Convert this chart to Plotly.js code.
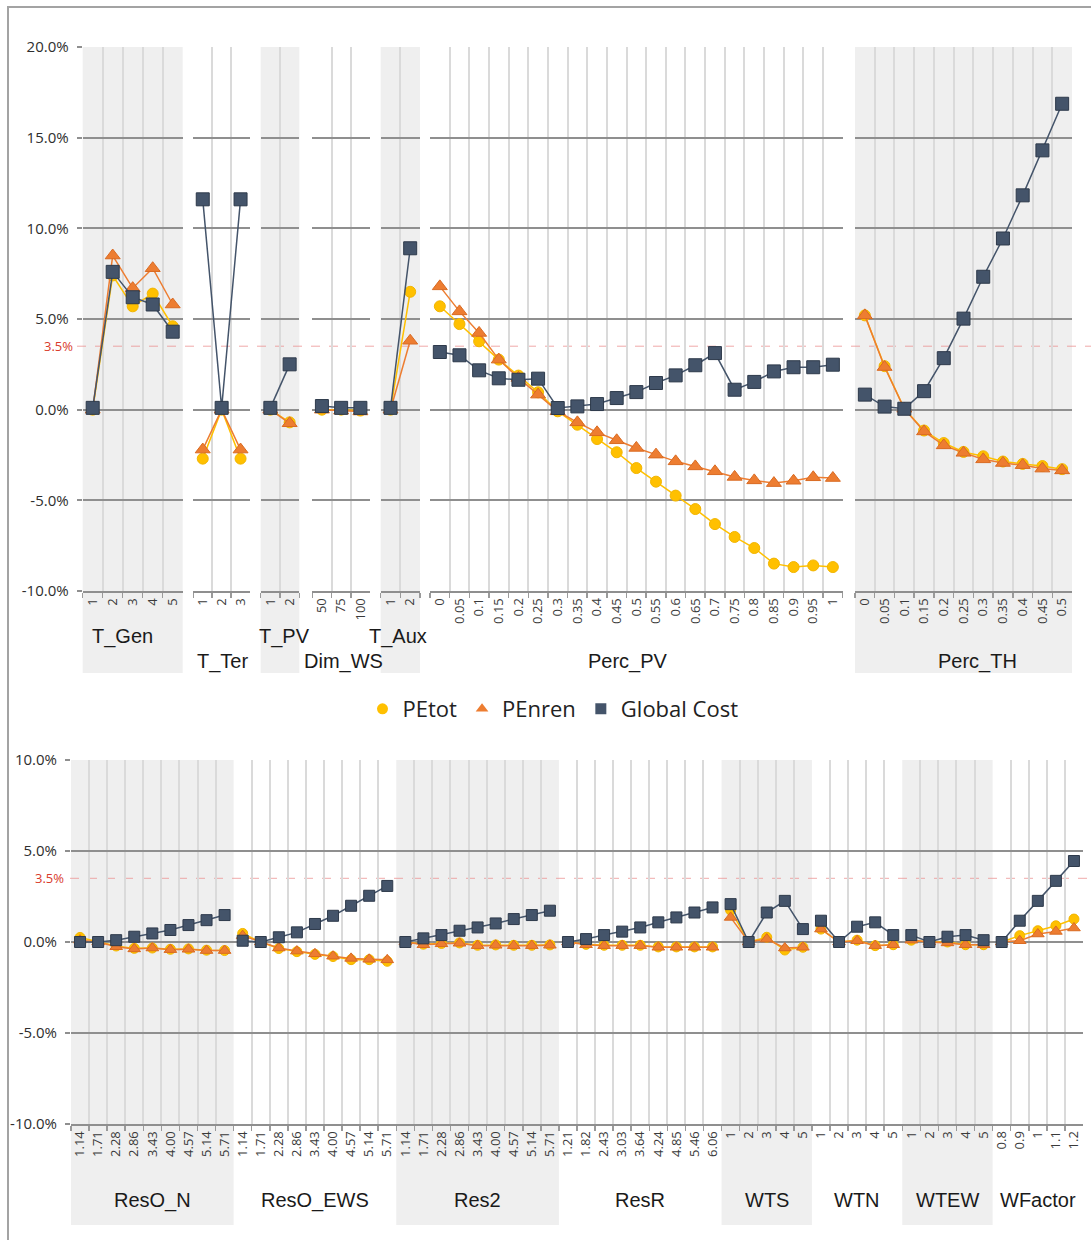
<!DOCTYPE html>
<html><head><meta charset="utf-8">
<script src="https://cdn.plot.ly/plotly-3.0.1.min.js"></script>
<style>html,body{margin:0;padding:0;background:#fff}#chart{width:1091px;height:1240px}</style>
</head><body><div id="chart"></div>
<script>
// ---------- DATA (values in %) ----------
// Top panel
const tGenCats   = ['1','2','3','4','5'];
const tGenPEtot  = [0, 7.4, 5.7, 6.4, 4.6];
const tGenPEnren = [0, 8.5, 6.7, 7.8, 5.8];
const tGenCost   = [0.1, 7.6, 6.2, 5.8, 4.3];

const tTerCats   = ['1','2','3'];
const tTerPEtot  = [-2.7, 0, -2.7];
const tTerPEnren = [-2.2, 0, -2.2];
const tTerCost   = [11.6, 0.1, 11.6];

const tPvCats    = ['1','2'];
const tPvPEtot   = [0, -0.7];
const tPvPEnren  = [0, -0.75];
const tPvCost    = [0.1, 2.5];

const dimWsCats   = ['50','75','100'];
const dimWsPEtot  = [0, 0, -0.05];
const dimWsPEnren = [0, -0.05, -0.1];
const dimWsCost   = [0.2, 0.1, 0.1];

const tAuxCats   = ['1','2'];
const tAuxPEtot  = [0, 6.5];
const tAuxPEnren = [0, 3.8];
const tAuxCost   = [0.1, 8.9];

const percPvCats   = ['0','0.05','0.1','0.15','0.2','0.25','0.3','0.35','0.4','0.45','0.5','0.55','0.6','0.65','0.7','0.75','0.8','0.85','0.9','0.95','1'];
const percPvPEtot  = [5.7, 4.72, 3.77, 2.76, 1.88, 0.96, -0.09, -0.83, -1.62, -2.35, -3.22, -3.97, -4.74, -5.48, -6.31, -7.02, -7.63, -8.49, -8.68, -8.59, -8.68];
const percPvPEnren = [6.8, 5.42, 4.23, 2.76, 1.75, 0.83, -0.09, -0.7, -1.25, -1.69, -2.11, -2.48, -2.85, -3.13, -3.4, -3.71, -3.9, -4.05, -3.92, -3.73, -3.77];
const percPvCost   = [3.18, 3.0, 2.17, 1.73, 1.65, 1.71, 0.09, 0.18, 0.31, 0.64, 0.97, 1.47, 1.89, 2.45, 3.12, 1.1, 1.53, 2.11, 2.34, 2.34, 2.48];

const percThCats   = ['0','0.05','0.1','0.15','0.2','0.25','0.3','0.35','0.4','0.45','0.5'];
const percThPEtot  = [5.2, 2.4, 0.05, -1.15, -1.84, -2.33, -2.57, -2.86, -2.99, -3.11, -3.28];
const percThPEnren = [5.2, 2.35, 0.05, -1.2, -1.97, -2.38, -2.74, -2.94, -3.06, -3.25, -3.35];
const percThCost   = [0.83, 0.17, 0.05, 1.02, 2.84, 5.02, 7.33, 9.44, 11.82, 14.3, 16.87];

// Bottom panel
const resOCats     = ['1.14','1.71','2.28','2.86','3.43','4.00','4.57','5.14','5.71'];
const resONPEtot   = [0.25, 0, -0.22, -0.35, -0.33, -0.4, -0.38, -0.45, -0.47];
const resONPEnren  = [0.1, 0, -0.26, -0.38, -0.33, -0.42, -0.4, -0.47, -0.47];
const resONCost    = [0, 0, 0.1, 0.29, 0.47, 0.66, 0.93, 1.2, 1.48];

const resOEWSPEtot  = [0.47, 0, -0.36, -0.53, -0.68, -0.8, -0.97, -0.97, -1.06];
const resOEWSPEnren = [0.35, 0, -0.33, -0.5, -0.65, -0.78, -0.9, -0.95, -0.98];
const resOEWSCost   = [0.07, 0, 0.26, 0.53, 0.99, 1.44, 1.99, 2.54, 3.08];

const res2Cats    = ['1.14','1.71','2.28','2.86','3.43','4.00','4.57','5.14','5.71'];
const res2PEtot   = [0, -0.12, -0.08, -0.05, -0.18, -0.16, -0.18, -0.18, -0.16];
const res2PEnren  = [0, -0.15, -0.1, -0.07, -0.2, -0.18, -0.2, -0.2, -0.18];
const res2Cost    = [0, 0.2, 0.38, 0.62, 0.8, 1.02, 1.26, 1.48, 1.72];

const resRCats    = ['1.21','1.82','2.43','3.03','3.64','4.24','4.85','5.46','6.06'];
const resRPEtot   = [0, -0.13, -0.18, -0.18, -0.18, -0.27, -0.27, -0.27, -0.27];
const resRPEnren  = [0, -0.15, -0.2, -0.2, -0.2, -0.29, -0.29, -0.29, -0.29];
const resRCost    = [0, 0.16, 0.38, 0.57, 0.8, 1.08, 1.35, 1.62, 1.9];

const wtCats      = ['1','2','3','4','5'];
const wtsPEtot    = [1.75, 0, 0.26, -0.44, -0.29];
const wtsPEnren   = [1.35, 0, 0.16, -0.33, -0.29];
const wtsCost     = [2.08, 0, 1.62, 2.26, 0.71];

const wtnPEtot    = [0.71, 0, 0.1, -0.2, -0.15];
const wtnPEnren   = [0.71, 0, 0.07, -0.2, -0.15];
const wtnCost     = [1.17, 0, 0.84, 1.08, 0.38];

const wtewPEtot   = [0.1, 0, 0, -0.15, -0.15];
const wtewPEnren  = [0.1, 0, -0.05, -0.15, -0.15];
const wtewCost    = [0.38, 0, 0.29, 0.38, 0.1];

const wfCats      = ['0.8','0.9','1','1.1','1.2'];
const wfPEtot     = [0, 0.35, 0.62, 0.89, 1.26];
const wfPEnren    = [0, 0.07, 0.44, 0.58, 0.77];
const wfCost      = [0, 1.17, 2.26, 3.36, 4.45];

const seriesNames = ['PEtot','PEnren','Global Cost'];
const threshold = 3.5;
const topYTicks = [-10, -5, 0, 5, 10, 15, 20];
const botYTicks = [-10, -5, 0, 5, 10];

// ---------- GROUP TABLES ----------
const topGroups = [
  {label:'T_Gen',   cats:tGenCats,   pe:tGenPEtot,   pn:tGenPEnren,   gc:tGenCost},
  {label:'T_Ter',   cats:tTerCats,   pe:tTerPEtot,   pn:tTerPEnren,   gc:tTerCost},
  {label:'T_PV',    cats:tPvCats,    pe:tPvPEtot,    pn:tPvPEnren,    gc:tPvCost},
  {label:'Dim_WS',  cats:dimWsCats,  pe:dimWsPEtot,  pn:dimWsPEnren,  gc:dimWsCost},
  {label:'T_Aux',   cats:tAuxCats,   pe:tAuxPEtot,   pn:tAuxPEnren,   gc:tAuxCost},
  {label:'Perc_PV', cats:percPvCats, pe:percPvPEtot, pn:percPvPEnren, gc:percPvCost},
  {label:'Perc_TH', cats:percThCats, pe:percThPEtot, pn:percThPEnren, gc:percThCost}
];
const botGroups = [
  {label:'ResO_N',   cats:resOCats, pe:resONPEtot,   pn:resONPEnren,   gc:resONCost},
  {label:'ResO_EWS', cats:resOCats, pe:resOEWSPEtot, pn:resOEWSPEnren, gc:resOEWSCost},
  {label:'Res2',     cats:res2Cats, pe:res2PEtot,    pn:res2PEnren,    gc:res2Cost},
  {label:'ResR',     cats:resRCats, pe:resRPEtot,    pn:resRPEnren,    gc:resRCost},
  {label:'WTS',      cats:wtCats,   pe:wtsPEtot,     pn:wtsPEnren,     gc:wtsCost},
  {label:'WTN',      cats:wtCats,   pe:wtnPEtot,     pn:wtnPEnren,     gc:wtnCost},
  {label:'WTEW',     cats:wtCats,   pe:wtewPEtot,    pn:wtewPEnren,    gc:wtewCost},
  {label:'WFactor',  cats:wfCats,   pe:wfPEtot,      pn:wfPEnren,      gc:wfCost}
];

// ---------- LAYOUT GEOMETRY (pixels) ----------
const W = 1091, H = 1240;
const px = v => v / W;
const py = v => 1 - v / H;
const topPx = [[82.7,182.7],[193.3,250],[260.7,299.3],[312.3,370],[380.7,420],[430,842.7],[855,1072]];
const topLabelPx = [[122,636],[222,662],[284,636],[343,662],[398,636],[628,662],[977,662]];
const topPlot = [47, 591], topBandBottom = 673;
const botPlot = [760, 1124], botBandBottom = 1225;
const botX0 = 71, botX1 = 1083, botLabelY = 1200;

const COL = {pe:'#FFC000', pn:'#ED7D31', gc:'#44546A'};
const EDGE = {pe:'#F2B500', pn:'#D96A22', gc:'#2E3A4B'};
const SANS = 'Open Sans, Noto Sans, sans-serif';
const ARIAL = 'Liberation Sans, Arial, sans-serif';

const traces = [];
const layout = {
  width: W, height: H,
  margin: {l:0, r:0, t:0, b:0},
  paper_bgcolor: '#ffffff', plot_bgcolor: 'rgba(0,0,0,0)',
  showlegend: true,
  legend: {orientation:'h', x: px(553), y: py(709), xanchor:'center', yanchor:'middle',
           font:{family:SANS, size:22, color:'#222'}, itemwidth:30, tracegroupgap:0,
           bgcolor:'rgba(0,0,0,0)'},
  shapes: [], annotations: []
};

function axisBase(cats, domain, anchor){
  return {
    type:'category', domain: domain, anchor: anchor,
    range:[-0.5, cats.length - 0.5], fixedrange:true,
    tickson:'boundaries', ticks:'outside', ticklen:5, tickcolor:'#9a9a9a', tickwidth:1.5,
    showgrid:true, gridcolor:'#dadada', gridwidth:2,
    showline:true, linecolor:'#8f8f8f', linewidth:2,
    zeroline:false, tickangle:-90, dtick:1,
    tickfont:{family:SANS, size:13, color:'#3a3a3a'}
  };
}

function addTraces(g, axName, yName, big){
  const defs = [
    {y:g.pe, k:'pe', symbol:'circle',      size: big ? 11 : 10},
    {y:g.pn, k:'pn', symbol:'triangle-up', size: big ? 13 : 11},
    {y:g.gc, k:'gc', symbol:'square',      size: big ? 13 : 11}
  ];
  defs.forEach(d => traces.push({
    type:'scatter', mode:'lines+markers', x:g.cats, y:d.y,
    xaxis:axName, yaxis:yName, showlegend:false, hoverinfo:'skip', cliponaxis:false,
    line:{color:COL[d.k], width:1.5},
    marker:{symbol:d.symbol, size:d.size, color:COL[d.k], line:{color:EDGE[d.k], width:1}}
  }));
}

// Top panel
topGroups.forEach((g, i) => {
  const idx = i + 1;
  const key = idx === 1 ? 'xaxis' : 'xaxis' + idx;
  const nm  = idx === 1 ? 'x' : 'x' + idx;
  layout[key] = axisBase(g.cats, [px(topPx[i][0]), px(topPx[i][1])], 'y');
  addTraces(g, nm, 'y', true);
  if (i % 2 === 0) {
    layout.shapes.push({type:'rect', xref:'paper', yref:'paper', layer:'below',
      x0:px(topPx[i][0]), x1:px(topPx[i][1]), y0:py(topBandBottom), y1:py(topPlot[0]),
      fillcolor:'#efefef', line:{width:0}});
  }
  layout.annotations.push({text:g.label, xref:'paper', yref:'paper', showarrow:false,
    x:px(topLabelPx[i][0]), y:py(topLabelPx[i][1]), xanchor:'center', yanchor:'middle',
    font:{family:ARIAL, size:20, color:'#1a1a1a'}});
});

// Bottom panel
const totalBot = botGroups.reduce((s, g) => s + g.cats.length, 0);
const unit = (botX1 - botX0) / totalBot;
let cum = 0;
botGroups.forEach((g, j) => {
  const idx = 8 + j;
  const key = 'xaxis' + idx, nm = 'x' + idx;
  const a = botX0 + cum * unit, b = botX0 + (cum + g.cats.length) * unit;
  cum += g.cats.length;
  layout[key] = axisBase(g.cats, [px(a), px(b)], 'y2');
  addTraces(g, nm, 'y2', false);
  if (j % 2 === 0) {
    layout.shapes.push({type:'rect', xref:'paper', yref:'paper', layer:'below',
      x0:px(a), x1:px(b), y0:py(botBandBottom), y1:py(botPlot[0]),
      fillcolor:'#efefef', line:{width:0}});
  }
  layout.annotations.push({text:g.label, xref:'paper', yref:'paper', showarrow:false,
    x:px((a + b) / 2), y:py(botLabelY), xanchor:'center', yanchor:'middle',
    font:{family:ARIAL, size:20, color:'#1a1a1a'}});
});

function yAxis(domain, range, anchor, ticks){
  return {
    domain: domain, range: range, anchor: anchor, fixedrange:true,
    tickmode:'array', tickvals: ticks, ticktext: ticks.map(v => v.toFixed(1) + '%'),
    showgrid:true, gridcolor:'#8f8f8f', gridwidth:2, zeroline:false,
    ticks:'outside', ticklen:5, tickcolor:'#8f8f8f', tickwidth:2,
    showline:false, ticklabelstandoff:5,
    tickfont:{family:SANS, size:15, color:'#2e2e2e'}
  };
}
layout.yaxis  = yAxis([py(topPlot[1]), py(topPlot[0])], [-10, 20], 'x', topYTicks);
layout.yaxis2 = yAxis([py(botPlot[1]), py(botPlot[0])], [-10, 10], 'x8', botYTicks);

// threshold lines + labels
[['y', 77, 75], ['y2', 70, 66]].forEach(([yr, xs, lx]) => {
  layout.shapes.push({type:'line', xref:'paper', yref:yr, layer:'below',
    x0:px(xs), x1:1.01, y0:threshold, y1:threshold,
    line:{color:'rgba(235,140,140,0.75)', width:1, dash:'dash'}});
  layout.annotations.push({text:threshold.toFixed(1) + '%', xref:'paper', yref:yr, showarrow:false,
    x:px(lx), y:threshold, xanchor:'right', yanchor:'middle',
    font:{family:SANS, size:13, color:'#d93a2b'}});
});

// outer frame
layout.shapes.push({type:'rect', xref:'paper', yref:'paper', layer:'above',
  x0:px(8), x1:1.02, y0:-0.02, y1:py(7), line:{color:'#a3a3a3', width:2}, fillcolor:'rgba(0,0,0,0)'});

// legend entries (markers only)
const legDefs = [['pe','circle'],['pn','triangle-up'],['gc','square']];
legDefs.forEach(([k, sym], i) => traces.push({
  type:'scatter', mode:'markers', x:[null], y:[null], xaxis:'x', yaxis:'y',
  name: seriesNames[i], showlegend:true, hoverinfo:'skip',
  marker:{symbol:sym, size:11, color:COL[k]}
}));

Plotly.newPlot('chart', traces, layout, {displayModeBar:false, staticPlot:true});
</script></body></html>
